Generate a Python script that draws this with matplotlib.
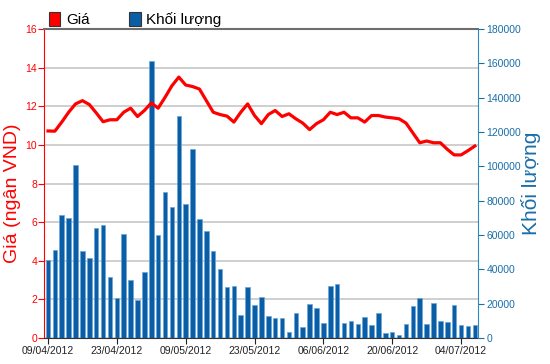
import matplotlib
matplotlib.use("Agg")
import matplotlib.pyplot as plt
from matplotlib.patches import Patch

plt.rcParams['font.family'] = ['Liberation Sans', 'DejaVu Sans']

# khoi luong (volume), one bar per trading day from 09/04/2012
volume = [45700, 51300, 71700, 70100, 100600, 50900, 46400, 64300, 65900, 35600,
          23300, 60800, 34000, 22300, 38500, 161200, 60200, 84900, 76200, 129400,
          78100, 110200, 69400, 62100, 50500, 40400, 29500, 30100, 13600, 29500,
          19500, 23900, 13000, 11700, 11700, 3500, 14600, 6600, 19600, 17500,
          8600, 30300, 31700, 8800, 9900, 7900, 12200, 7800, 14400, 2700,
          3500, 1900, 8400, 18900, 23300, 8400, 20200, 9900, 9300, 19400,
          7800, 7000, 7800]

# gia (price, thousand VND)
price = [10.72, 10.71, 11.18, 11.69, 12.12, 12.29, 12.09, 11.66, 11.20, 11.30,
         11.30, 11.69, 11.90, 11.47, 11.78, 12.17, 11.90, 12.46, 13.06, 13.51,
         13.10, 13.02, 12.89, 12.29, 11.69, 11.57, 11.49, 11.18, 11.69, 12.12,
         11.52, 11.10, 11.57, 11.78, 11.47, 11.61, 11.35, 11.13, 10.79, 11.10,
         11.30, 11.69, 11.57, 11.69, 11.40, 11.40, 11.18, 11.52, 11.52, 11.44,
         11.40, 11.35, 11.13, 10.62, 10.11, 10.20, 10.11, 10.11, 9.77, 9.48,
         9.48, 9.70, 9.94]

tick_labels = ['09/04/2012', '23/04/2012', '09/05/2012', '23/05/2012',
               '06/06/2012', '20/06/2012', '04/07/2012']
price_ticks = [0, 2, 4, 6, 8, 10, 12, 14, 16]
volume_ticks = [0, 20000, 40000, 60000, 80000, 100000, 120000, 140000, 160000, 180000]

RED = '#ff0000'
BLUE = '#1a6ea8'

x = list(range(len(volume)))

fig = plt.figure(figsize=(5.5, 3.64), dpi=100)
ax = fig.add_axes([44/550, 1-338/364, 434/550, 309/364])
ax2 = ax.twinx()

# grid lives on the price axis, underneath the bars
ax.set_ylim(0, 16)
ax.set_yticks(price_ticks)
ax.grid(axis='y', color='#cccccc', linewidth=1.3)
ax.set_xlim(-0.58, 62.46)
ax.set_xticks(x[::10])
ax.set_xticklabels(tick_labels)

ax2.bar(x, volume, width=0.66, color='#0a5ea6', edgecolor='#6aa6da', linewidth=0.5)
# price line drawn on top of the bars but with the left scale
ax2.plot(x, price, color=RED, linewidth=2.3, transform=ax.transData, solid_joinstyle='round')
ax2.set_ylim(0, 180000)
ax2.set_yticks(volume_ticks)
ax2.set_xlim(-0.58, 62.46)

# spines
ax.spines['left'].set_color(RED)
ax.spines['top'].set_color('#6e6e6e')
ax.spines['top'].set_linewidth(1.5)
ax.spines['bottom'].set_color('#333333')
ax.spines['right'].set_visible(False)
for s in ['left', 'top', 'bottom']:
    ax2.spines[s].set_visible(False)
ax2.spines['right'].set_color('#2f86c4')

ax.tick_params(axis='y', colors=RED, labelsize=7.5, length=4, pad=1)
ax.tick_params(axis='x', colors='#222222', labelsize=7.5, length=4, pad=2)
ax2.tick_params(axis='y', colors=BLUE, labelsize=7.5, length=4, pad=2)

ax.set_ylabel('Giá (ngân VND)', color=RED, fontsize=14)
ax.yaxis.set_label_coords(-0.052, 0.47)
ax2.set_ylabel('Khối lượng', color=BLUE, fontsize=15)
ax2.yaxis.set_label_coords(1.098, 0.5)

handles = [Patch(facecolor=RED, edgecolor='#333333', linewidth=0.8),
           Patch(facecolor='#0a5ea6', edgecolor='#333333', linewidth=0.8)]
fig.legend(handles, ['Giá', 'Khối lượng'], loc='lower left',
           bbox_to_anchor=(49/550, 1-27/364), ncol=2, frameon=False,
           fontsize=11, handlelength=0.75, handleheight=1.0,
           handletextpad=0.35, columnspacing=2.6, borderpad=0, borderaxespad=0)

fig.savefig('out.png', dpi=100, facecolor='white')
